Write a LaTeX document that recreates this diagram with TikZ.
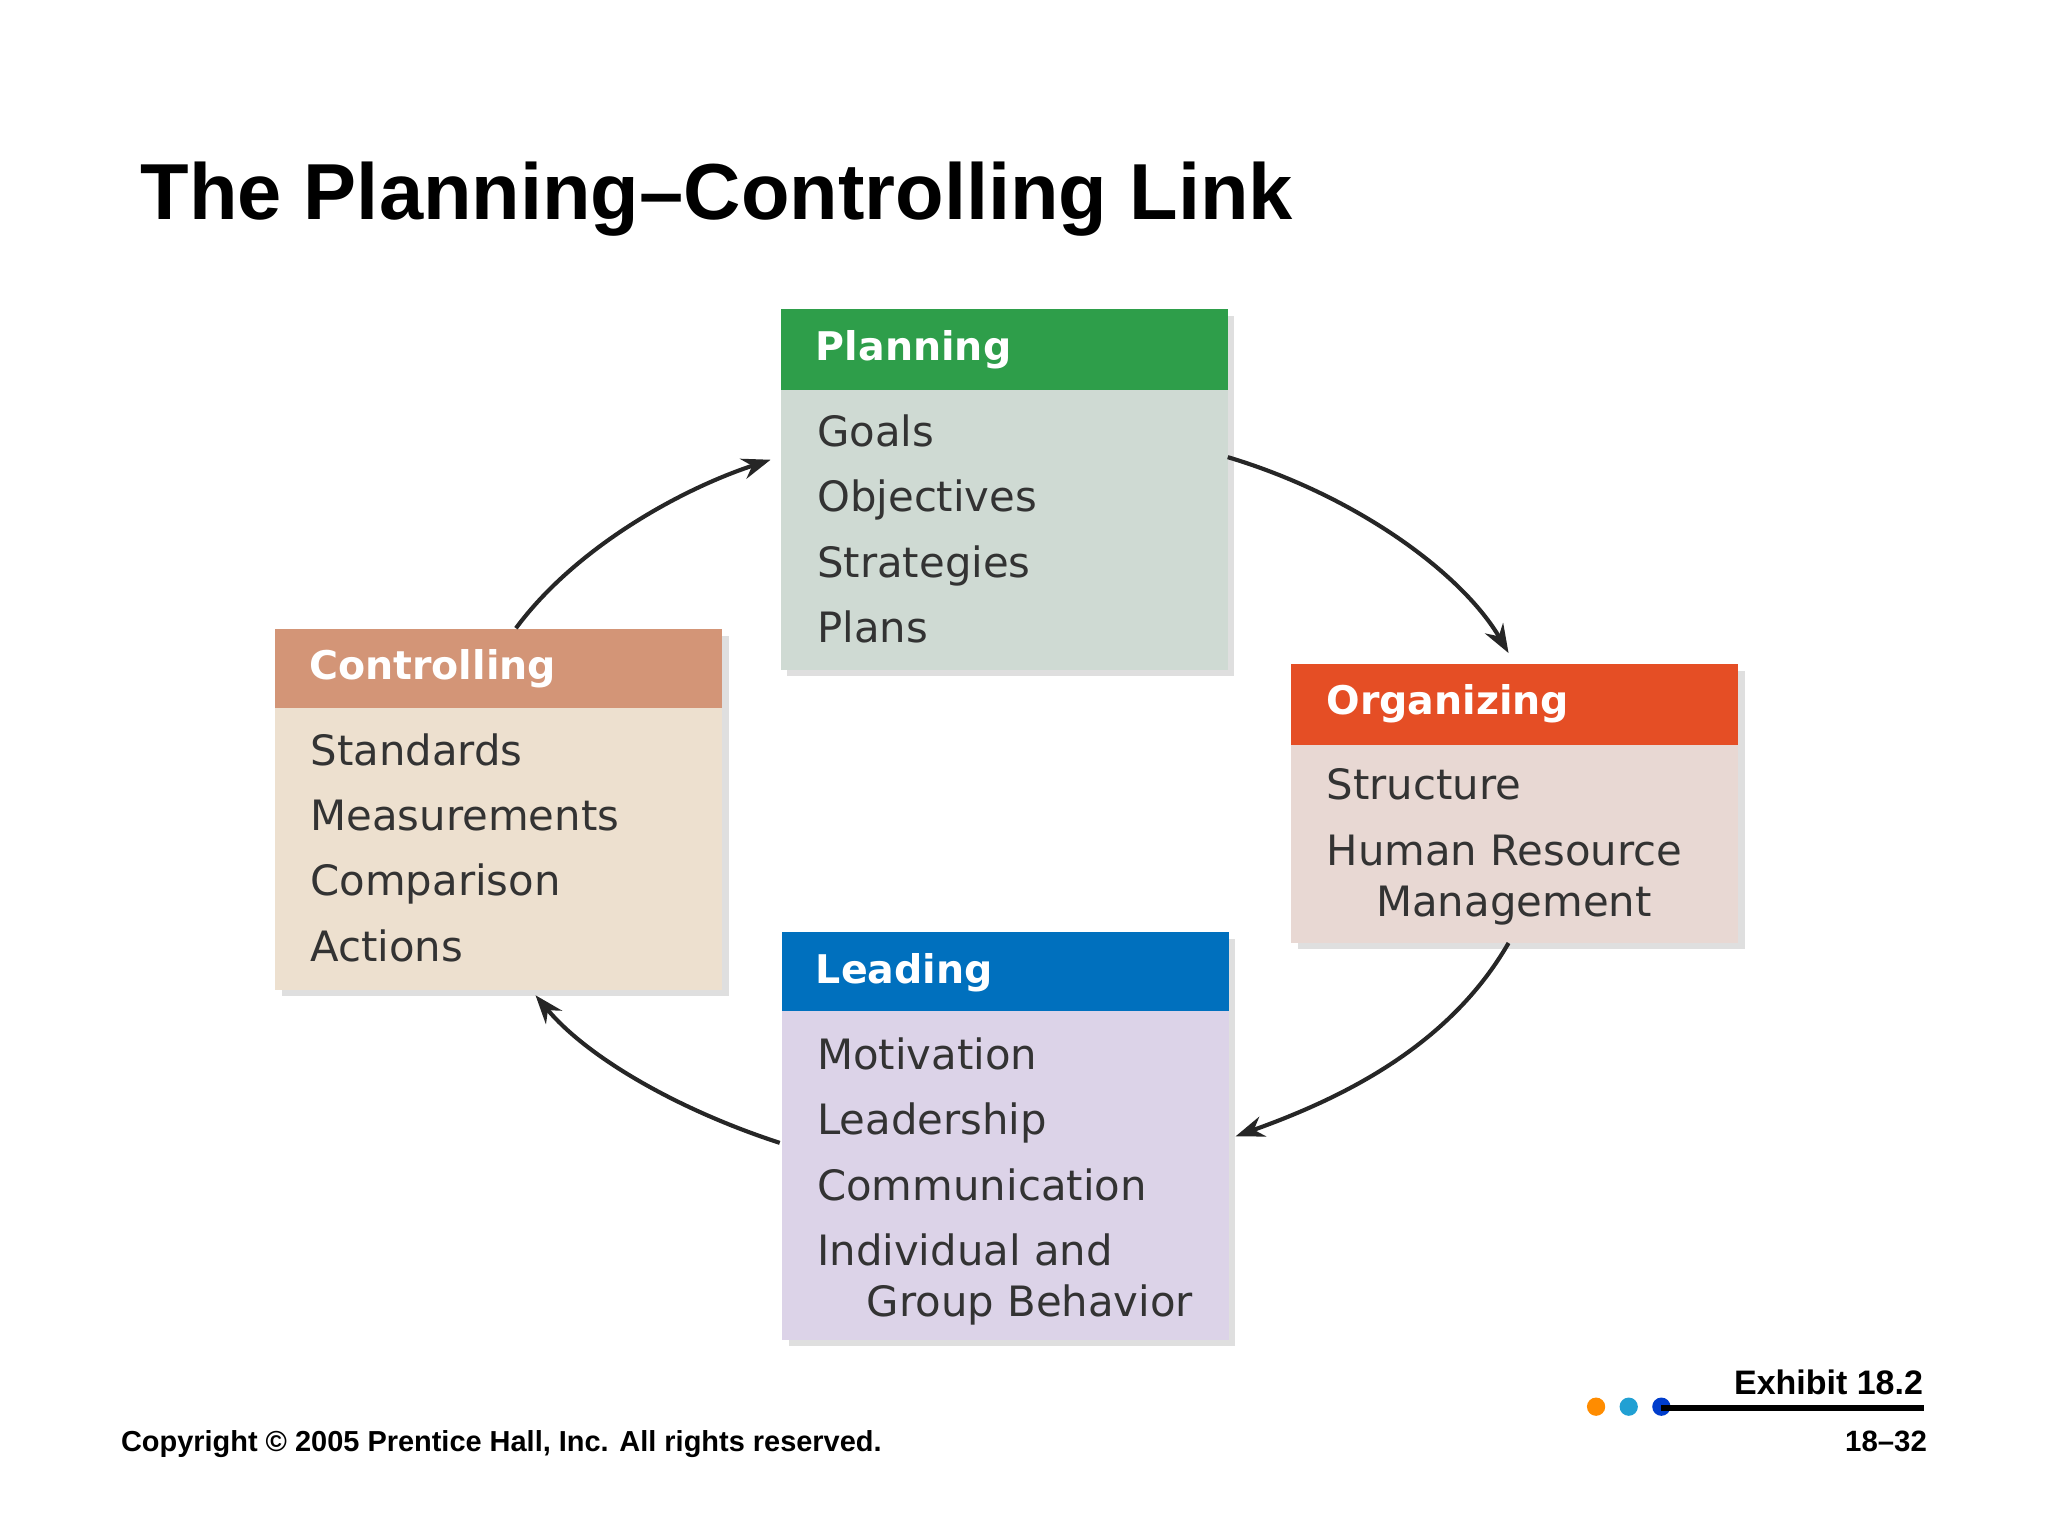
\documentclass[tikz,border=0pt]{standalone}
\usepackage{fontspec}
\setmainfont{Liberation Sans}
\newfontfamily\bodyf{DejaVu Sans}
\usetikzlibrary{shadows,arrows.meta}
\definecolor{pgreen}{HTML}{2E9E4A}\definecolor{pgbody}{HTML}{CFDAD3}
\definecolor{cbrown}{HTML}{D39577}\definecolor{cbody}{HTML}{EDE0CF}
\definecolor{ored}{HTML}{E54E25}\definecolor{obody}{HTML}{E8D8D3}
\definecolor{lblue}{HTML}{0070BE}\definecolor{lbody}{HTML}{DCD3E8}
\tikzset{
 boxbody/.style={anchor=north west,inner sep=0,minimum width=3.42cm,drop shadow={shadow xshift=0.05cm,shadow yshift=-0.05cm,opacity=0.25}},
 hdr/.style={anchor=north west,inner sep=0,minimum width=3.42cm,minimum height=0.62cm},
 htext/.style={anchor=west,inner sep=0,text=white,font=\bodyf\bfseries\fontsize{8.6}{12}\selectfont},
 btext/.style={anchor=north west,inner sep=0,align=left,font=\bodyf\fontsize{9.1}{14.2}\selectfont,text=black!80},
 arr/.style={-{Stealth[length=0.22cm,width=0.16cm]},line width=0.9pt,black!85}
}
\begin{document}
\begin{tikzpicture}[x=0.01cm,y=-0.01cm]
\useasboundingbox (0,0) rectangle (1568,1176);
\node[anchor=base west,inner sep=0,font=\bfseries\fontsize{17.3}{20}\selectfont] (title) at (107,168) {The Planning--Controlling Link};
% Planning
\node[boxbody,fill=pgbody,minimum height=2.76cm] (pb) at (597,236) {};
\node[hdr,fill=pgreen] (ph) at (597,236) {};
\node[htext] (pht) at (624,268) {Planning};
\node[btext] (ptx) at (625,317) {Goals\\Objectives\\Strategies\\Plans};
% Controlling
\node[boxbody,fill=cbody,minimum height=2.76cm] (cb) at (210,481) {};
\node[hdr,fill=cbrown,minimum height=0.6cm] (ch) at (210,481) {};
\node[htext] (cht) at (236,512) {Controlling};
\node[btext] (ctx) at (237,561) {Standards\\Measurements\\Comparison\\Actions};
% Organizing
\node[boxbody,fill=obody,minimum height=2.13cm] (ob) at (988,508) {};
\node[hdr,fill=ored] (oh) at (988,508) {};
\node[htext] (oht) at (1015,539) {Organizing};
\node[btext] (otx) at (1015,588) {Structure\\Human Resource\\[-0.11cm]\hspace*{0.38cm}Management};
% Leading
\node[boxbody,fill=lbody,minimum height=3.12cm] (lb) at (598,713) {};
\node[hdr,fill=lblue,minimum height=0.6cm] (lh) at (598,713) {};
\node[htext] (lht) at (624,745) {Leading};
\node[btext] (ltx) at (625,794) {Motivation\\Leadership\\Communication\\Individual and\\[-0.11cm]\hspace*{0.38cm}Group Behavior};
% arrows
\coordinate (a1) at (940,350); \coordinate (a2) at (1155,500);
\draw[arr] (a1) .. controls (1040,380) and (1120,440) .. (a2);
\coordinate (b1) at (1155,722); \coordinate (b2) at (946,870);
\draw[arr] (b1) .. controls (1110,800) and (1030,840) .. (b2);
\coordinate (c1) at (597,875); \coordinate (c2) at (410,762);
\draw[arr] (c1) .. controls (520,850) and (450,810) .. (c2);
\coordinate (d1) at (395,481); \coordinate (d2) at (590,352);
\draw[arr] (d1) .. controls (440,420) and (520,375) .. (d2);
% footer
\node[anchor=base west,inner sep=0,font=\bfseries\fontsize{6.3}{8}\selectfont] (copy) at (92,1111) {Copyright © 2005 Prentice Hall, Inc. All rights reserved.};
\node[anchor=base east,inner sep=0,font=\bfseries\fontsize{6.4}{8}\selectfont] (pg) at (1476,1111) {18--32};
\node[anchor=base east,inner sep=0,font=\bfseries\fontsize{7.4}{9}\selectfont] (ex) at (1473,1068) {Exhibit 18.2};
\fill[orange!90!yellow] (1222,1077) circle (7);
\fill[cyan!70!teal] (1247,1077) circle (7);
\fill[blue!70!cyan!80!black] (1272,1077) circle (7);
\coordinate (l1) at (1272,1078); \coordinate (l2) at (1473,1078);
\draw[line width=1.4pt] (l1) -- (l2);
\end{tikzpicture}
\end{document}
